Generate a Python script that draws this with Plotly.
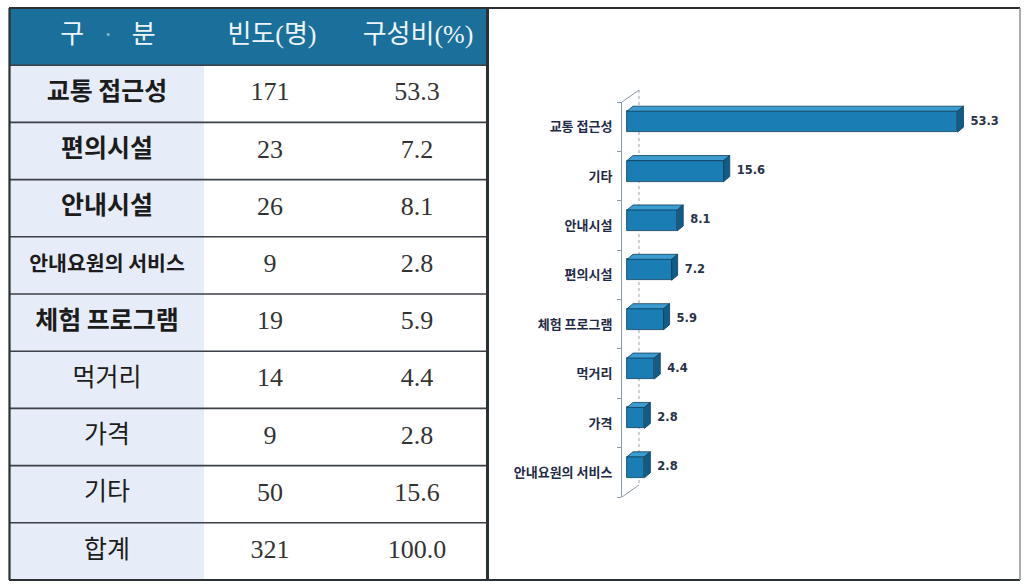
import plotly.graph_objects as go

# ---------------- data ----------------
header_labels = ["구   <span style='color:#8fb6cf'>·</span>   분", "빈도(명)", "구성비(%)"]
row_labels = ["교통 접근성", "편의시설", "안내시설", "안내요원의 서비스", "체험 프로그램",
              "먹거리", "가격", "기타", "합계"]
counts = [171, 23, 26, 9, 19, 14, 9, 50, 321]
shares = [53.3, 7.2, 8.1, 2.8, 5.9, 4.4, 2.8, 15.6, 100.0]

# bar chart order, top to bottom
chart_labels = ["교통 접근성", "기타", "안내시설", "편의시설", "체험 프로그램",
                "먹거리", "가격", "안내요원의 서비스"]
chart_values = [shares[row_labels.index(lbl)] for lbl in chart_labels]

# ---------------- geometry helpers ----------------
W, H = 1024, 584


def fx(px):
    return px / W


def fy(py):
    return 1 - py / H


KFONT = "Noto Sans CJK KR"
SERIF = "Liberation Serif, Noto Sans CJK KR"

fig = go.Figure()

# ================= table (x2 / y2, pixel-like units) =================
TX0, TX1, TY0, TY1 = 10, 487, 8, 580
COL1_RIGHT = 204
col_centers = [107, 270, 417]
rows = list(range(len(row_labels)))

# header text
fig.add_trace(go.Scatter(
    x=[108, 272, 418], y=[-1] * 3, text=header_labels, mode="text",
    xaxis="x2", yaxis="y2", hoverinfo="skip", cliponaxis=False,
    textfont=dict(family=SERIF, size=26, color="#eef4f9"),
))

# first column labels (bold rows / regular rows), per-cell sizes
bold_n = 5
sizes = [25 if len(lbl) < 8 else 20.5 for lbl in row_labels]
fig.add_trace(go.Scatter(
    x=[col_centers[0]] * bold_n, y=rows[:bold_n], text=row_labels[:bold_n], mode="text",
    xaxis="x2", yaxis="y2", hoverinfo="skip", cliponaxis=False,
    textfont=dict(family=KFONT, size=sizes[:bold_n], color="#1c1c1c", weight="bold"),
))
fig.add_trace(go.Scatter(
    x=[col_centers[0]] * (len(rows) - bold_n), y=rows[bold_n:], text=row_labels[bold_n:],
    mode="text", xaxis="x2", yaxis="y2", hoverinfo="skip", cliponaxis=False,
    textfont=dict(family=KFONT, size=sizes[bold_n:], color="#1c1c1c"),
))

# numeric columns
fig.add_trace(go.Scatter(
    x=[col_centers[1]] * len(rows), y=rows, text=[str(c) for c in counts], mode="text",
    xaxis="x2", yaxis="y2", hoverinfo="skip", cliponaxis=False,
    textfont=dict(family=SERIF, size=26, color="#333333"),
))
fig.add_trace(go.Scatter(
    x=[col_centers[2]] * len(rows), y=rows, text=[f"{s:.1f}" for s in shares], mode="text",
    xaxis="x2", yaxis="y2", hoverinfo="skip", cliponaxis=False,
    textfont=dict(family=SERIF, size=26, color="#333333"),
))

shapes = []
# header band and first-column tint
shapes.append(dict(type="rect", xref="x2", yref="y2", x0=TX0, x1=TX1, y0=-1.5, y1=-0.5,
                   fillcolor="#1b6f9b", line=dict(width=0), layer="below"))
shapes.append(dict(type="rect", xref="x2", yref="y2", x0=TX0, x1=COL1_RIGHT, y0=-0.5,
                   y1=len(rows) - 0.5, fillcolor="#e6edf8", line=dict(width=0), layer="below"))
# row separators
for r in range(len(rows)):
    shapes.append(dict(type="line", xref="x2", yref="y2", x0=TX0, x1=TX1, y0=r - 0.5,
                       y1=r - 0.5, line=dict(color="#3b4146", width=1.6)))

# outer frame
frame = "#2b3034"
shapes += [
    dict(type="line", xref="paper", yref="paper", x0=fx(9), x1=fx(1020), y0=fy(8), y1=fy(8),
         line=dict(color=frame, width=2.2)),
    dict(type="line", xref="paper", yref="paper", x0=fx(9), x1=fx(1020), y0=fy(580),
         y1=fy(580), line=dict(color=frame, width=2.2)),
    dict(type="line", xref="paper", yref="paper", x0=fx(9.5), x1=fx(9.5), y0=fy(8), y1=fy(580),
         line=dict(color=frame, width=2.2)),
    dict(type="line", xref="paper", yref="paper", x0=fx(487.5), x1=fx(487.5), y0=fy(8),
         y1=fy(580), line=dict(color=frame, width=3)),
    dict(type="line", xref="paper", yref="paper", x0=fx(1020), x1=fx(1020), y0=fy(8),
         y1=fy(580), line=dict(color="#8c8f92", width=1.5)),
]

# ================= 3-D style bar chart (x / y) =================
AX_PX = 622          # front wall line
BASE_PX = 627        # bar base (value 0)
UNIT_PX = 6.2        # pixels per percent
RIGHT_PX = 1010
YTOP_PX, YBOT_PX = 102, 497
x_lo = -(BASE_PX - AX_PX) / UNIT_PX
x_hi = x_lo + (RIGHT_PX - AX_PX) / UNIT_PX
n_cat = len(chart_labels)
y_unit = (YBOT_PX - YTOP_PX) / n_cat

pos = list(range(n_cat))
BAR_W = 21 / y_unit
BAR_OFF = -5 / y_unit - BAR_W / 2
ddx = 6 / UNIT_PX          # depth shift to the right
ddy = 5 / y_unit           # depth shift upward

front_col, top_col, side_col, edge_col = "#1a7db4", "#3d9ccf", "#0f5d88", "#0c3d5c"

fig.add_trace(go.Bar(
    x=chart_values, y=pos, orientation="h", width=BAR_W, offset=BAR_OFF,
    marker=dict(color=front_col, line=dict(color=edge_col, width=0.8)),
    hoverinfo="skip",
))

top_x, top_y, side_x, side_y = [], [], [], []
for v, p in zip(chart_values, pos):
    y_top = p + BAR_OFF
    y_bot = y_top + BAR_W
    top_x += [0, v, v + ddx, ddx, 0, None]
    top_y += [y_top, y_top, y_top - ddy, y_top - ddy, y_top, None]
    side_x += [v, v + ddx, v + ddx, v, v, None]
    side_y += [y_top, y_top - ddy, y_bot - ddy, y_bot, y_top, None]

fig.add_trace(go.Scatter(x=top_x, y=top_y, mode="lines", fill="toself", fillcolor=top_col,
                         line=dict(color=edge_col, width=0.8), hoverinfo="skip"))
fig.add_trace(go.Scatter(x=side_x, y=side_y, mode="lines", fill="toself", fillcolor=side_col,
                         line=dict(color=edge_col, width=0.8), hoverinfo="skip"))

# value labels
gap = 7 / UNIT_PX
fig.add_trace(go.Scatter(
    x=[v + ddx + gap for v in chart_values], y=[p - 0.1 for p in pos],
    text=[f"{v:.1f}" for v in chart_values], mode="text", textposition="middle right",
    cliponaxis=False, hoverinfo="skip",
    textfont=dict(family="DejaVu Sans", size=11.5, color="#283248", weight="bold"),
))

# back wall of the 3-D frame
DEPTH_X, DEPTH_Y = 17, -12
wall = "#8a99a8"
shapes += [
    dict(type="line", xref="paper", yref="paper", x0=fx(AX_PX + DEPTH_X), x1=fx(AX_PX + DEPTH_X),
         y0=fy(YTOP_PX + DEPTH_Y), y1=fy(YBOT_PX + DEPTH_Y),
         line=dict(color="#9aa3ab", width=1, dash="dot"), layer="below"),
    dict(type="line", xref="paper", yref="paper", x0=fx(AX_PX), x1=fx(AX_PX + DEPTH_X),
         y0=fy(YTOP_PX), y1=fy(YTOP_PX + DEPTH_Y), line=dict(color=wall, width=1)),
    dict(type="line", xref="paper", yref="paper", x0=fx(AX_PX), x1=fx(AX_PX + DEPTH_X),
         y0=fy(YBOT_PX), y1=fy(YBOT_PX + DEPTH_Y), line=dict(color=wall, width=1)),
]

fig.update_layout(
    width=W, height=H,
    margin=dict(l=0, r=0, t=0, b=0),
    paper_bgcolor="white", plot_bgcolor="rgba(0,0,0,0)",
    showlegend=False, bargap=0,
    shapes=shapes,
    xaxis=dict(domain=[fx(AX_PX), fx(RIGHT_PX)], range=[x_lo, x_hi], visible=False,
               fixedrange=True),
    yaxis=dict(domain=[fy(YBOT_PX), fy(YTOP_PX)], range=[n_cat - 0.5, -0.5],
               tickvals=pos, ticktext=chart_labels, ticks="", showgrid=False, zeroline=False,
               showline=True, linecolor=wall, linewidth=1, ticklabelstandoff=6,
               tickfont=dict(family=KFONT, size=13, color="#1f2b45", weight="bold"),
               minor=dict(ticks="outside", ticklen=4, tickcolor=wall, tick0=-0.5, dtick=1,
                          showgrid=False),
               fixedrange=True),
    xaxis2=dict(domain=[fx(TX0), fx(TX1)], range=[TX0, TX1], visible=False, anchor="y2",
                fixedrange=True),
    yaxis2=dict(domain=[fy(TY1), fy(TY0)], range=[len(rows) - 0.5, -1.5], visible=False,
                anchor="x2", fixedrange=True),
)

fig.write_html("out.html")
